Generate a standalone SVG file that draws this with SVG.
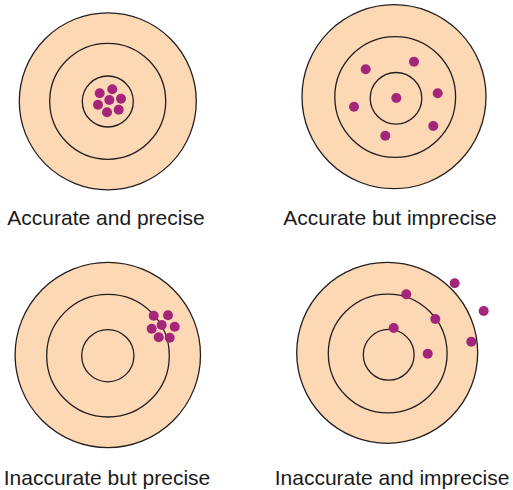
<svg xmlns="http://www.w3.org/2000/svg" width="513" height="490" viewBox="0 0 513 490">
<style>
.bg{fill:#FCD8B4;stroke:#231F20;stroke-width:1.3}
.ring{fill:none;stroke:#231F20;stroke-width:1.3}
.dot{fill:#A3267A}
.lbl{font-family:"Liberation Sans",Arial,sans-serif;font-size:21px;fill:#1a1a1a;text-anchor:middle}
</style>
<rect width="513" height="490" fill="#fff"/>
<g id="target-accurate-precise">
<circle class="bg" cx="107.8" cy="101.3" r="88.5"/>
<circle class="ring" cx="107.7" cy="101.3" r="58"/>
<circle class="ring" cx="107.8" cy="101.5" r="25.5"/>
<circle class="dot" cx="99.7" cy="93.3" r="5"/>
<circle class="dot" cx="112.3" cy="89.3" r="5"/>
<circle class="dot" cx="109.3" cy="100" r="5"/>
<circle class="dot" cx="121" cy="98.7" r="5"/>
<circle class="dot" cx="98" cy="104.7" r="5"/>
<circle class="dot" cx="107" cy="112.3" r="5"/>
<circle class="dot" cx="118.7" cy="109.7" r="5"/>
<text class="lbl" x="106" y="225">Accurate and precise</text>
</g>
<g id="target-accurate-imprecise">
<circle class="bg" cx="394" cy="96.7" r="92"/>
<circle class="ring" cx="395.2" cy="97" r="60.4"/>
<circle class="ring" cx="396" cy="98.3" r="25.8"/>
<circle class="dot" cx="365.7" cy="69.3" r="5"/>
<circle class="dot" cx="414" cy="61.7" r="5"/>
<circle class="dot" cx="437.7" cy="93.3" r="5"/>
<circle class="dot" cx="396.3" cy="98" r="5"/>
<circle class="dot" cx="354" cy="106.7" r="5"/>
<circle class="dot" cx="433.3" cy="126" r="5"/>
<circle class="dot" cx="385.3" cy="135.7" r="5"/>
<text class="lbl" x="390" y="225">Accurate but imprecise</text>
</g>
<g id="target-inaccurate-precise">
<circle class="bg" cx="107.8" cy="355" r="92.7"/>
<circle class="ring" cx="108" cy="355.7" r="61.3"/>
<circle class="ring" cx="107.8" cy="355.7" r="26.1"/>
<circle class="dot" cx="153.7" cy="315.7" r="5"/>
<circle class="dot" cx="168" cy="315.3" r="5"/>
<circle class="dot" cx="161.7" cy="325" r="5"/>
<circle class="dot" cx="174.7" cy="326.7" r="5"/>
<circle class="dot" cx="151.7" cy="328.7" r="5"/>
<circle class="dot" cx="158.7" cy="337.3" r="5"/>
<circle class="dot" cx="169.7" cy="337.7" r="5"/>
<text class="lbl" x="107" y="485">Inaccurate but precise</text>
</g>
<g id="target-inaccurate-imprecise">
<circle class="bg" cx="387.2" cy="352.8" r="90.5"/>
<circle class="ring" cx="387.7" cy="353.5" r="59.4"/>
<circle class="ring" cx="388.7" cy="354.8" r="25.4"/>
<circle class="dot" cx="454.7" cy="283.3" r="5"/>
<circle class="dot" cx="406.3" cy="294.3" r="5"/>
<circle class="dot" cx="483.7" cy="311" r="5"/>
<circle class="dot" cx="435.3" cy="319" r="5"/>
<circle class="dot" cx="393.7" cy="328" r="5"/>
<circle class="dot" cx="471.3" cy="341.7" r="5"/>
<circle class="dot" cx="427.7" cy="353.7" r="5"/>
<text class="lbl" x="392" y="485">Inaccurate and imprecise</text>
</g>
</svg>
